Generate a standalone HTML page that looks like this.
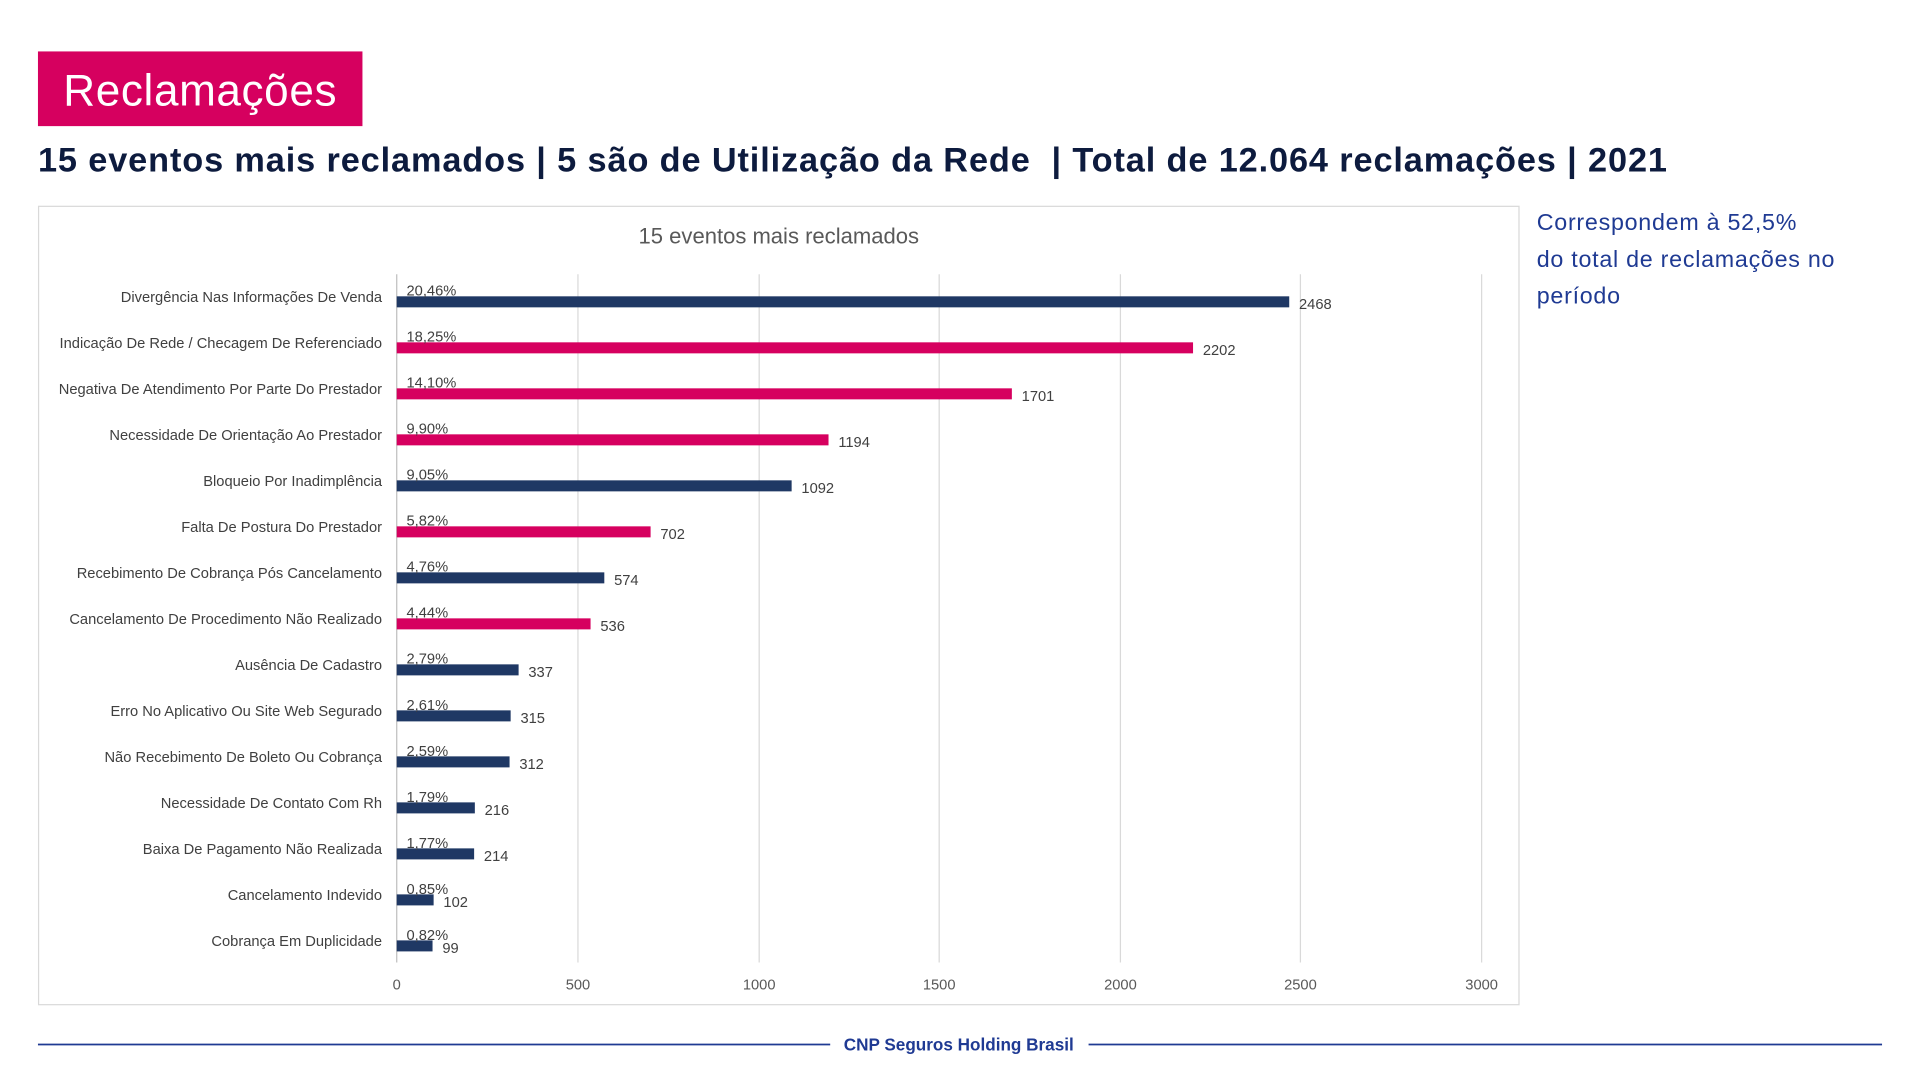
<!DOCTYPE html>
<html><head><meta charset="utf-8"><style>
html,body{margin:0;padding:0;background:#fff;overflow:hidden;width:1920px;height:1080px}
#w{position:absolute;left:0;top:0;width:1568px;height:882px;transform:scale(1.22449);transform-origin:0 0;font-family:"Liberation Sans",sans-serif}
.badge{position:absolute;left:31px;top:42px;width:265px;height:61px;background:#d6005f;color:#fff;font-size:36px;line-height:63px;text-align:center;letter-spacing:0.5px}
.title{position:absolute;left:31px;top:115px;font-size:28px;font-weight:bold;color:#0d1b3e;white-space:nowrap;letter-spacing:0.72px}
.side{position:absolute;left:1255px;top:168px;font-size:19px;color:#1f3a93;line-height:30px;letter-spacing:0.6px}
</style></head><body><div id="w">
<div class="badge">Reclamações</div>
<div class="title">15 eventos mais reclamados | 5 são de Utilização da Rede &nbsp;| Total de 12.064 reclamações | 2021</div>
<div class="side">Correspondem à 52,5%<br>do total de reclamações no<br>período</div>
<svg width="1568" height="882" style="position:absolute;left:0;top:0" font-family="Liberation Sans, sans-serif">
<rect x="31.5" y="168.5" width="1209" height="652" fill="#fff" stroke="#d9d9d9"/>
<text x="636" y="199" font-size="18" fill="#595959" text-anchor="middle">15 eventos mais reclamados</text>
<g stroke="#d9d9d9">
<line x1="472" y1="224" x2="472" y2="786"/><line x1="620" y1="224" x2="620" y2="786"/><line x1="767" y1="224" x2="767" y2="786"/><line x1="915" y1="224" x2="915" y2="786"/><line x1="1062" y1="224" x2="1062" y2="786"/><line x1="1210" y1="224" x2="1210" y2="786"/>
<line x1="324" y1="224" x2="324" y2="786" stroke="#bfbfbf"/>
</g>
<g font-size="12" fill="#595959" text-anchor="middle">
<text x="324" y="808">0</text><text x="472" y="808">500</text><text x="620" y="808">1000</text><text x="767" y="808">1500</text><text x="915" y="808">2000</text><text x="1062" y="808">2500</text><text x="1210" y="808">3000</text>
</g>
<g id="bars" font-size="12" fill="#404040"></g>
</svg>
<svg width="1568" height="20" style="position:absolute;left:0;top:843px">
<line x1="31" y1="10" x2="678" y2="10" stroke="#1f3a93" stroke-width="1.5"/>
<line x1="889" y1="10" x2="1537" y2="10" stroke="#1f3a93" stroke-width="1.5"/>
<text x="783" y="15" font-size="14" font-weight="bold" fill="#1f3a93" text-anchor="middle" font-family="Liberation Sans, sans-serif">CNP Seguros Holding Brasil</text>
</svg>
</div>
<script>
var d=[["Divergência Nas Informações De Venda",2468,"20,46%",0],["Indicação De Rede / Checagem De Referenciado",2202,"18,25%",1],["Negativa De Atendimento Por Parte Do Prestador",1701,"14,10%",1],["Necessidade De Orientação Ao Prestador",1194,"9,90%",1],["Bloqueio Por Inadimplência",1092,"9,05%",0],["Falta De Postura Do Prestador",702,"5,82%",1],["Recebimento De Cobrança Pós Cancelamento",574,"4,76%",0],["Cancelamento De Procedimento Não Realizado",536,"4,44%",1],["Ausência De Cadastro",337,"2,79%",0],["Erro No Aplicativo Ou Site Web Segurado",315,"2,61%",0],["Não Recebimento De Boleto Ou Cobrança",312,"2,59%",0],["Necessidade De Contato Com Rh",216,"1,79%",0],["Baixa De Pagamento Não Realizada",214,"1,77%",0],["Cancelamento Indevido",102,"0,85%",0],["Cobrança Em Duplicidade",99,"0,82%",0]];
var s='';d.forEach(function(r,i){var c=246.5+i*37.57,w=r[1]*0.29533;
s+='<text x="312" y="'+(c)+'" text-anchor="end">'+r[0]+'</text>';
s+='<rect x="324" y="'+(c-4.5)+'" width="'+w+'" height="9" fill="'+(r[3]?'#d6005f':'#1f3864')+'"/>';
s+='<text x="332" y="'+(c-5)+'">'+r[2]+'</text>';
s+='<text x="'+(324+w+8)+'" y="'+(c+6)+'">'+r[1]+'</text>';});
document.getElementById('bars').innerHTML=s;
</script>
</body></html>
